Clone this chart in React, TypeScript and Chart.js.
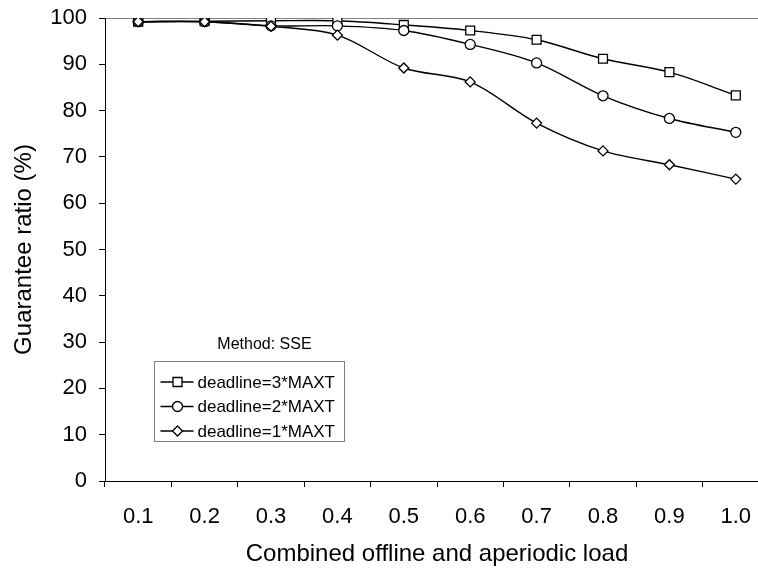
import React, { useEffect, useRef } from "react";
import { Chart, registerables } from "chart.js";

Chart.register(...registerables);

const categories = ["0.1", "0.2", "0.3", "0.4", "0.5", "0.6", "0.7", "0.8", "0.9", "1.0"];
const seriesLabels = ["deadline=3*MAXT", "deadline=2*MAXT", "deadline=1*MAXT"];
const deadline3 = [99.2, 99.3, 99.4, 99.4, 98.5, 97.3, 95.3, 91.2, 88.3, 83.3];
const deadline2 = [99.2, 99.2, 98.3, 98.3, 97.3, 94.3, 90.3, 83.2, 78.3, 75.3];
const deadline1 = [99.2, 99.2, 98.2, 96.3, 89.2, 86.2, 77.3, 71.3, 68.3, 65.2];
const pointShapes = ["rect", "circle", "rectRot"];
const yMin = 0;
const yMax = 100;
const yStep = 10;
const legendTitle = "Method: SSE";
const xTitle = "Combined offline and aperiodic load";
const yTitle = "Guarantee ratio (%)";

const FONT = '"Liberation Sans", Arial, Helvetica, sans-serif';

function drawMarker(ctx: CanvasRenderingContext2D, shape: string, x: number, y: number) {
  ctx.beginPath();
  if (shape === "rect") {
    ctx.rect(x - 4.5, y - 4.5, 9, 9);
  } else if (shape === "circle") {
    ctx.arc(x, y, 5, 0, Math.PI * 2);
  } else {
    ctx.moveTo(x, y - 5);
    ctx.lineTo(x + 5, y);
    ctx.lineTo(x, y + 5);
    ctx.lineTo(x - 5, y);
    ctx.closePath();
  }
  ctx.fillStyle = "#fff";
  ctx.fill();
  ctx.strokeStyle = "#000";
  ctx.lineWidth = 1.3;
  ctx.stroke();
}

const insideLegend = {
  id: "insideLegend",
  afterDraw(chart: any) {
    const ctx: CanvasRenderingContext2D = chart.ctx;
    const a = chart.chartArea;
    const bx = a.left + 49.5;
    const by = a.top + 343.5;
    const bw = 190;
    const bh = 80;
    ctx.save();
    ctx.font = `16px ${FONT}`;
    ctx.fillStyle = "#000";
    ctx.textAlign = "center";
    ctx.textBaseline = "middle";
    ctx.fillText(legendTitle, a.left + 159.5, a.top + 327);

    ctx.fillStyle = "#fff";
    ctx.fillRect(bx, by, bw, bh);
    ctx.strokeStyle = "#808080";
    ctx.lineWidth = 1;
    ctx.strokeRect(bx, by, bw, bh);

    chart.data.datasets.forEach((ds: any, i: number) => {
      const ry = by + 20.5 + i * 24.5;
      ctx.beginPath();
      ctx.moveTo(bx + 6, ry);
      ctx.lineTo(bx + 39, ry);
      ctx.strokeStyle = "#000";
      ctx.lineWidth = 1.3;
      ctx.stroke();
      drawMarker(ctx, ds.pointStyle, bx + 23, ry);
      ctx.font = `17px ${FONT}`;
      ctx.fillStyle = "#000";
      ctx.textAlign = "left";
      ctx.textBaseline = "middle";
      ctx.fillText(ds.label, bx + 43, ry + 1);
    });
    ctx.restore();
  },
};

export default function App() {
  const ref = useRef<HTMLCanvasElement | null>(null);

  useEffect(() => {
    if (!ref.current) return;
    Chart.defaults.font.family = FONT;
    const seriesValues = [deadline3, deadline2, deadline1];
    const chart = new Chart(ref.current, {
      type: "line",
      data: {
        labels: categories,
        datasets: seriesLabels.map((label, i) => ({
          label,
          data: seriesValues[i],
          borderColor: "#000",
          borderWidth: 1.4,
          backgroundColor: "#fff",
          pointStyle: pointShapes[i] as any,
          pointRadius: i === 0 ? 6.3 : 5,
          pointBackgroundColor: "#fff",
          pointBorderColor: "#000",
          pointBorderWidth: 1.3,
          tension: 0.33,
          fill: false,
          order: 2 - i,
        })),
      },
      options: {
        animation: false,
        responsive: false,
        devicePixelRatio: 1,
        layout: { autoPadding: false, padding: { left: 0, right: 11, top: 18, bottom: 0 } },
        plugins: {
          legend: { display: false },
          tooltip: { enabled: false },
        },
        scales: {
          x: {
            type: "category",
            offset: true,
            grid: {
              offset: true,
              drawOnChartArea: false,
              color: "#000",
              tickColor: "#000",
              tickLength: 6,
            },
            border: { color: "#000", width: 1 },
            ticks: {
              color: "#000",
              font: { size: 22, family: FONT },
              padding: 17,
              maxRotation: 0,
              autoSkip: false,
            },
            title: {
              display: true,
              text: xTitle,
              color: "#000",
              font: { size: 24, family: FONT },
              padding: { top: 0, bottom: 2 },
            },
            afterFit: (scale: any) => {
              scale.height = 90;
              scale.paddingLeft = 0;
              scale.paddingRight = 0;
            },
          },
          y: {
            min: yMin,
            max: yMax,
            ticks: {
              stepSize: yStep,
              color: "#000",
              font: { size: 22, family: FONT },
              padding: 12,
            },
            grid: {
              color: (c: any) => (c.tick && c.tick.value === yMax ? "#808080" : "rgba(0,0,0,0)"),
              tickColor: "#000",
              tickLength: 6,
            },
            border: { color: "#000", width: 1 },
            title: {
              display: true,
              text: yTitle,
              color: "#000",
              font: { size: 24, family: FONT },
              padding: { top: 10, bottom: 0 },
            },
            afterFit: (scale: any) => {
              scale.width = 105;
              scale.paddingTop = 0;
              scale.paddingBottom = 0;
            },
          },
        },
      },
      plugins: [insideLegend],
    });
    return () => chart.destroy();
  }, []);

  return (
    <div
      style={{
        position: "absolute",
        left: 0,
        top: 0,
        width: 758,
        height: 571,
        overflow: "hidden",
        background: "#fff",
      }}
    >
      <canvas ref={ref} width={780} height={571} style={{ display: "block", width: 780, height: 571 }} />
    </div>
  );
}
